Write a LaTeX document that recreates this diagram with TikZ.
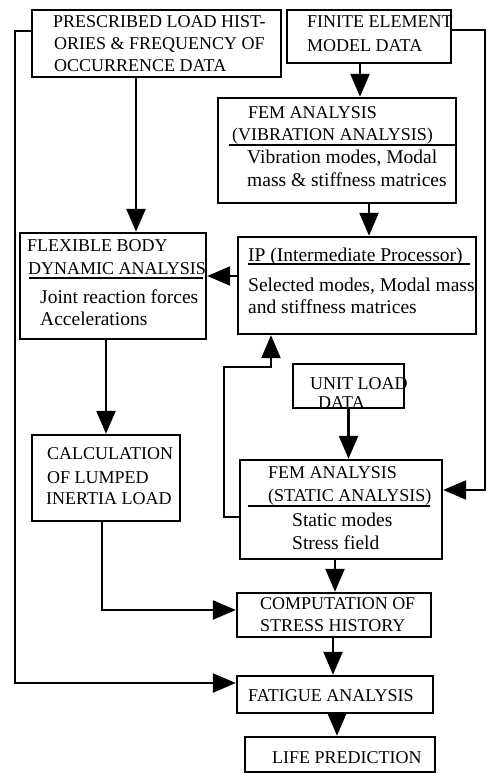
\documentclass[tikz,border=0pt]{standalone}
\usepackage{fontspec}
\setmainfont{Liberation Serif}
\usetikzlibrary{arrows.meta}
\begin{document}
\begin{tikzpicture}[x=1pt,y=-1pt,
  box/.style 2 args={draw, line width=2.4pt, minimum width=#1, minimum height=#2, inner sep=0pt},
  tc/.style={anchor=west, inner sep=0pt, text height=12pt, text depth=0pt, font=\fontsize{18}{22}\selectfont},
  tl/.style={anchor=west, inner sep=0pt, text height=12.5pt, text depth=0pt, font=\fontsize{19.5}{22}\selectfont},
  arr/.style={line width=2.4pt, -{Triangle[width=19pt,length=23pt]}},
  uline/.style={line width=2.4pt}]
\useasboundingbox (0,0) rectangle (487,774);

% boxes
\node[box={249}{67}] (A) at (156.5,43.5) {};
\node[box={164}{53}] (B) at (369,36.5) {};
\node[box={238}{105}] (C) at (337,150.5) {};
\node[box={238}{97}] (IP) at (357,285.5) {};
\node[box={186}{106}] (D) at (113,286) {};
\node[box={148}{86}] (E) at (106,478) {};
\node[box={111}{44}] (F) at (348.5,386) {};
\node[box={202}{99}] (G) at (341,509.5) {};
\node[box={194}{44}] (H) at (334,615) {};
\node[box={196}{37}] (I) at (335,694.5) {};
\node[box={190}{35}] (J) at (340,754.5) {};

% texts
\node[tc] (a1) at (53,21) {PRESCRIBED LOAD HIST-};
\node[tc] (a2) at (54,43) {ORIES \& FREQUENCY OF};
\node[tc] (a3) at (54,65) {OCCURRENCE DATA};

\node[tc] (b1) at (307,21) {FINITE ELEMENT};
\node[tc] (b2) at (307,45) {MODEL DATA};

\node[tc] (c1) at (248,112) {FEM ANALYSIS};
\node[tc] (c2) at (232,134) {(VIBRATION ANALYSIS)};
\draw[uline] (229,145) -- (455,145);
\node[tl] (c3) at (247,157) {Vibration modes, Modal};
\node[tl] (c4) at (247,180) {mass \& stiffness matrices};

\node[tl] (ip1) at (248,255) {IP (Intermediate Processor)};
\draw[uline] (248,264) -- (470,264);
\node[tl] (ip2) at (248,285) {Selected modes, Modal mass};
\node[tl] (ip3) at (248,307) {and stiffness matrices};

\node[tc] (d1) at (27,245) {FLEXIBLE BODY};
\node[tc] (d2) at (28,268) {DYNAMIC ANALYSIS};
\draw[uline] (29,278) -- (203,278);
\node[tl] (d3) at (40,297) {Joint reaction forces};
\node[tl] (d4) at (40,319) {Accelerations};

\node[tc] (e1) at (47,453) {CALCULATION};
\node[tc] (e2) at (47,477) {OF LUMPED};
\node[tc] (e3) at (46,498) {INERTIA LOAD};

\node[tc] (f1) at (310,383) {UNIT LOAD};
\node[tc] (f2) at (318,402) {DATA};

\node[tc] (g1t) at (268,472) {FEM ANALYSIS};
\node[tc] (g2t) at (268,495) {(STATIC ANALYSIS)};
\draw[uline] (248,506) -- (430,506);
\node[tl] (g3t) at (292,520) {Static modes};
\node[tl] (g4t) at (292,543) {Stress field};

\node[tc] (h1) at (260,603) {COMPUTATION OF};
\node[tc] (h2) at (260,625) {STRESS HISTORY};

\node[tc] (i1) at (248,695) {FATIGUE ANALYSIS};
\node[tc] (j1) at (272,757) {LIFE PREDICTION};

% connectors
\coordinate (lb) at (15,683);
\draw[arr] ([yshift=12.5pt]A.west) -| (lb) -- ([yshift=11.5pt]I.west);
\draw[arr] ([xshift=-20.5pt]A.south) -- ([xshift=-20.5pt]A.south |- D.north);
\draw[arr] ([xshift=-9pt]B.south) -- ([xshift=-9pt]B.south |- C.north);
\coordinate (rc) at (485,490);
\draw[arr] ([yshift=6.5pt]B.east) -| (rc) -- ([yshift=19.5pt]G.east);
\draw[arr] ([xshift=32pt]C.south) -- ([xshift=32pt]C.south |- IP.north);
\draw[arr] ([yshift=9.5pt]IP.west) -- ([yshift=9.5pt]IP.west -| D.east);
\draw[arr] ([xshift=-7pt]D.south) -- ([xshift=-7pt]D.south |- E.north);
\coordinate (eh) at (102,610);
\draw[arr] ([xshift=-4pt]E.south) -- (eh) -- ([yshift=5pt]H.west);
\draw[arr] (F.south) -- (F.south |- G.north);
\coordinate (gl) at (224,367);
\draw[arr] ([yshift=-7.5pt]G.west) -| (gl) -| ([xshift=-86pt]IP.south);
\draw[arr] ([xshift=-6pt]G.south) -- ([xshift=-6pt]G.south |- H.north);
\draw[arr] ([xshift=-1pt]H.south) -- ([xshift=-1pt]H.south |- I.north);
\draw[arr] ([xshift=2pt]I.south) -- ([xshift=2pt]I.south |- J.north);
\end{tikzpicture}
\end{document}
